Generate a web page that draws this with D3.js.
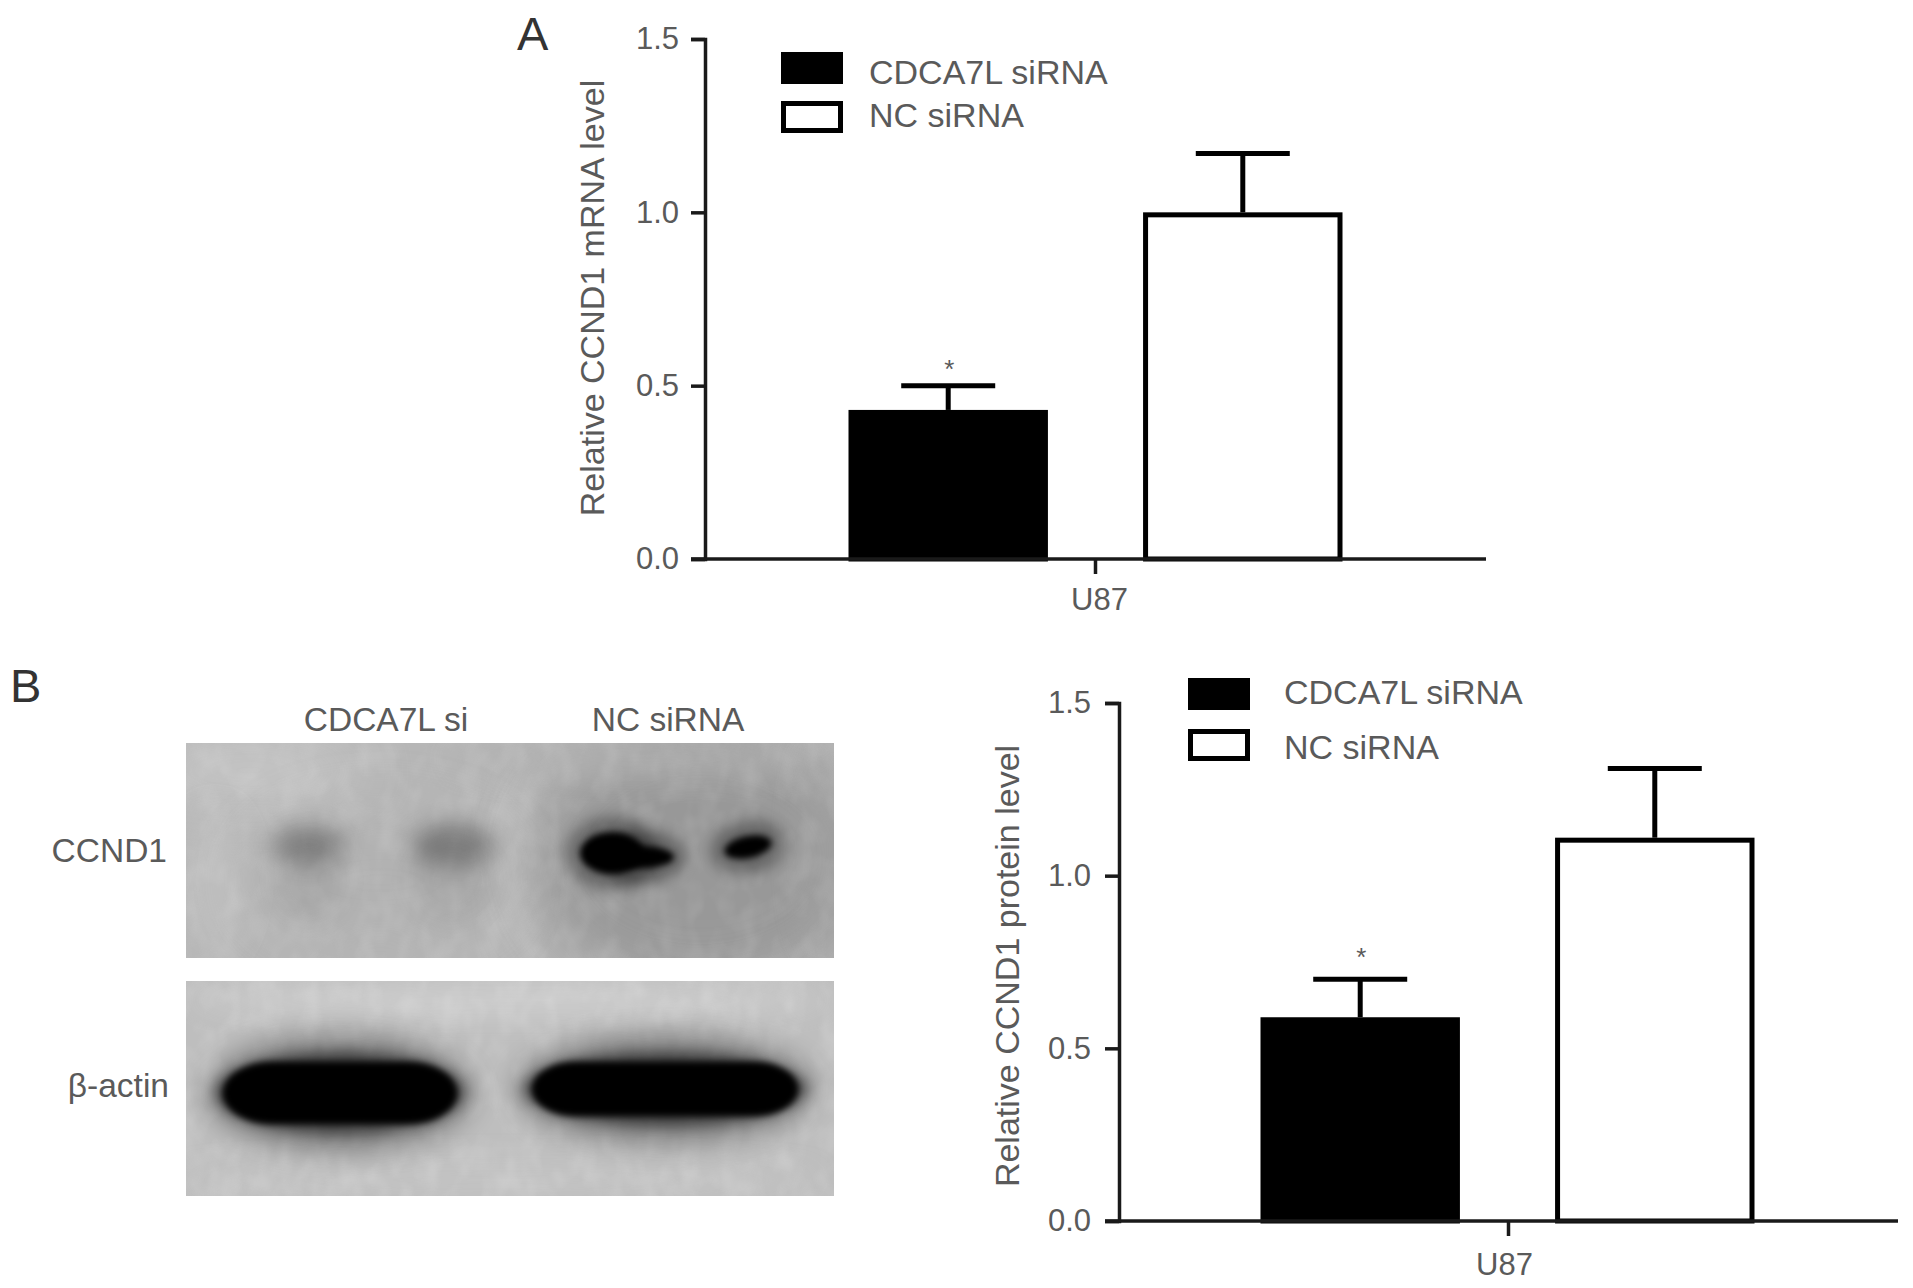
<!DOCTYPE html>
<html>
<head>
<meta charset="utf-8">
<script src="https://cdnjs.cloudflare.com/ajax/libs/d3/7.8.5/d3.min.js"></script>
<style>
  body { margin: 0; background: #fff; }
  text { font-family: "Liberation Sans", sans-serif; fill: #5a5a5a; }
</style>
</head>
<body>
<div id="chart"></div>
<script>
// values
var groups = ["U87"]
var series = ["CDCA7L siRNA", "NC siRNA"]
var yTicks = [0, 0.5, 1.0, 1.5]
var mrnaValues = [0.43, 1.0]
var mrnaErrors = [0.07, 0.17]
var proteinValues = [0.59, 1.11]
var proteinErrors = [0.11, 0.2]
var significant = [true, false]

var blotLanes = ["CDCA7L si", "NC siRNA"]
var ccnd1Signal = [0.14, 0.17, 1, 1, 1]
var actinSignal = [1, 1]

var width = 1913
var height = 1288
var barStroke = 5

var svg = d3.select("#chart").append("svg")
  .attr("width", width)
  .attr("height", height)
  .style("display", "block")

var defs = svg.append("defs")
;[3, 5, 7, 11, 14, 28, 45].forEach(function(s) {
  defs.append("filter")
    .attr("id", "blur" + s)
    .attr("x", "-100%").attr("y", "-100%")
    .attr("width", "300%").attr("height", "300%")
    .append("feGaussianBlur").attr("stdDeviation", s)
})

// mottled film texture for the blots
var mottle = defs.append("filter").attr("id", "mottle")
  .attr("x", 0).attr("y", 0).attr("width", "100%").attr("height", "100%")
mottle.append("feTurbulence")
  .attr("type", "fractalNoise").attr("baseFrequency", "0.05 0.035")
  .attr("numOctaves", 2).attr("seed", 4)
mottle.append("feColorMatrix")
  .attr("type", "matrix")
  .attr("values", "0 0 0 0 1  0 0 0 0 1  0 0 0 0 1  1.6 0 0 0 -0.62")

function drawBars(o) {
  var g = svg.append("g").attr("transform", "translate(" + o.left + "," + o.top + ")")

  var y = d3.scaleLinear().domain([0, 1.5]).range([o.h, 0])
  var x0 = d3.scaleBand().domain(groups).range([0, o.w])
  var centre = x0(groups[0]) + x0.bandwidth() / 2
  var x1 = d3.scaleBand().domain(series)
    .range([centre - 247 + o.barShift, centre + 247 + o.barShift])
    .paddingInner(0.323)

  // bars first, the axis line sits on top of them
  var bars = g.selectAll(".bar").data(series).enter().append("g").attr("class", "bar")

  bars.append("line")
    .attr("x1", function(d) { return x1(d) + x1.bandwidth() / 2 })
    .attr("x2", function(d) { return x1(d) + x1.bandwidth() / 2 })
    .attr("y1", function(d, i) { return y(o.values[i]) })
    .attr("y2", function(d, i) { return y(o.values[i] + o.errors[i]) })
    .attr("stroke", "#000").attr("stroke-width", 5)

  bars.append("line")
    .attr("x1", function(d) { return x1(d) + x1.bandwidth() / 2 - 47 })
    .attr("x2", function(d) { return x1(d) + x1.bandwidth() / 2 + 47 })
    .attr("y1", function(d, i) { return y(o.values[i] + o.errors[i]) })
    .attr("y2", function(d, i) { return y(o.values[i] + o.errors[i]) })
    .attr("stroke", "#000").attr("stroke-width", 5)

  bars.append("rect")
    .attr("x", function(d) { return x1(d) + barStroke / 2 })
    .attr("width", x1.bandwidth() - barStroke)
    .attr("y", function(d, i) { return y(o.values[i]) + barStroke / 2 })
    .attr("height", function(d, i) { return o.h - y(o.values[i]) - barStroke / 2 })
    .attr("fill", function(d, i) { return i == 0 ? "#000" : "#fff" })
    .attr("stroke", "#000")
    .attr("stroke-width", barStroke)

  bars.filter(function(d, i) { return significant[i] }).append("text")
    .attr("x", function(d) { return x1(d) + x1.bandwidth() / 2 + 1 })
    .attr("y", function(d, i) { return y(o.values[i] + o.errors[i]) - o.starGap })
    .attr("text-anchor", "middle")
    .attr("font-size", 26)
    .text("*")

  var yAxis = g.append("g")
    .call(d3.axisLeft(y).tickValues(yTicks).tickSize(14).tickPadding(o.tickPad).tickFormat(d3.format(".1f")))
  var xAxis = g.append("g")
    .attr("transform", "translate(0," + o.h + ")")
    .call(d3.axisBottom(x0).tickSize(15).tickPadding(o.labelPad))

  ;[yAxis, xAxis].forEach(function(a) {
    a.select(".domain").attr("stroke", "#1a1a1a").attr("stroke-width", 3.5)
    a.selectAll(".tick line").attr("stroke", "#1a1a1a").attr("stroke-width", 3.5)
    a.selectAll("text").attr("font-size", 31).attr("font-family", null).style("fill", "#5a5a5a")
  })
  // extend the x axis line to the left tick end
  xAxis.select(".domain").attr("d", "M-14,0H" + o.w)
  xAxis.selectAll(".tick text").attr("dx", o.labelDx)

  g.append("text")
    .attr("transform", "translate(" + o.titleX + "," + (o.h / 2 + o.titleDy) + ") rotate(-90)")
    .attr("text-anchor", "middle")
    .attr("font-size", o.titleSize)
    .text(o.title)

  // legend
  var lg = svg.append("g").attr("transform", "translate(" + o.legendX + "," + o.legendY + ")")
  var swatches = lg.selectAll("rect").data(series).enter().append("rect")
    .attr("x", 2.5)
    .attr("y", function(d, i) { return i * o.legendStep + 2.5 })
    .attr("width", 57).attr("height", 27)
    .attr("fill", function(d, i) { return i == 0 ? "#000" : "#fff" })
    .attr("stroke", "#000").attr("stroke-width", 5)
  lg.selectAll("text").data(series).enter().append("text")
    .attr("x", o.legendText)
    .attr("y", function(d, i) { return o.legendBase + i * o.legendTextStep })
    .attr("font-size", 34)
    .text(function(d) { return d })
}

drawBars({
  left: 705, top: 39, w: 781, h: 520, barShift: 0,
  values: mrnaValues, errors: mrnaErrors, starGap: 8, tickPad: 12, labelPad: 14, labelDx: 4,
  title: "Relative CCND1 mRNA level", titleX: -101, titleDy: -1, titleSize: 34,
  legendX: 781, legendY: 52, legendStep: 49, legendText: 88, legendBase: 32, legendTextStep: 43
})

drawBars({
  left: 1119, top: 703, w: 779, h: 518, barShift: -1,
  values: proteinValues, errors: proteinErrors, starGap: 13, tickPad: 14, labelPad: 17, labelDx: -4,
  title: "Relative CCND1 protein level", titleX: -100, titleDy: 4, titleSize: 34,
  legendX: 1188, legendY: 678, legendStep: 51, legendText: 96, legendBase: 26, legendTextStep: 55
})

// panel letters
svg.append("text").attr("x", 517).attr("y", 50).attr("font-size", 47).style("fill", "#333").text("A")
svg.append("text").attr("x", 10).attr("y", 702).attr("font-size", 47).style("fill", "#333").text("B")

// western blot panels, painted with blurred shapes
function blotPanel(id, x, y, w, h, base) {
  defs.append("clipPath").attr("id", id).append("rect")
    .attr("x", x).attr("y", y).attr("width", w).attr("height", h)
  var p = svg.append("g").attr("clip-path", "url(#" + id + ")")
  p.append("rect").attr("x", x).attr("y", y).attr("width", w).attr("height", h).attr("fill", base)
  return p
}

function smear(p, cx, cy, rx, ry, colour, opacity, blur, rotate) {
  p.append("ellipse")
    .attr("cx", cx).attr("cy", cy).attr("rx", rx).attr("ry", ry)
    .attr("fill", colour).attr("opacity", opacity)
    .attr("filter", "url(#blur" + blur + ")")
    .attr("transform", rotate ? "rotate(" + rotate + " " + cx + " " + cy + ")" : null)
}

var top1 = blotPanel("clipTop", 186, 743, 648, 215, "#b6b6b6")
smear(top1, 250, 770, 120, 30, "#cbcbcb", 0.8, 28)
smear(top1, 215, 880, 30, 70, "#c4c4c4", 0.6, 14)
smear(top1, 515, 860, 16, 90, "#c6c6c6", 0.7, 14)
smear(top1, 700, 860, 170, 130, "#8f8f8f", 0.75, 28)
smear(top1, 640, 760, 190, 18, "#b0b0b0", 0.7, 14)
smear(top1, 820, 850, 20, 100, "#a2a2a2", 0.5, 14)
smear(top1, 380, 880, 130, 70, "#adadad", 0.5, 28)
top1.append("rect").attr("x", 186).attr("y", 743).attr("width", 648).attr("height", 215)
  .attr("filter", "url(#mottle)").attr("opacity", 0.14)

var laneCx = [309, 452, 612, 642, 748]
var laneCy = [845, 845, 853, 857, 847]
var laneRx = [36, 42, 32, 32, 24]
var laneRy = [20, 22, 21, 11, 11]
ccnd1Signal.forEach(function(s, i) {
  if (s < 0.5) {
    smear(top1, laneCx[i], laneCy[i], laneRx[i], laneRy[i], "#000", s + 0.12, 11)
    smear(top1, laneCx[i], laneCy[i] + 35, laneRx[i], 40, "#000", 0.06, 14)
  } else {
    smear(top1, laneCx[i], laneCy[i], laneRx[i] + 14, laneRy[i] + 16, "#000", 0.32, 7, i == 4 ? -12 : 0)
    smear(top1, laneCx[i], laneCy[i], laneRx[i], laneRy[i], "#000", s, 3, i == 4 ? -12 : 0)
  }
})

var top2 = blotPanel("clipBottom", 186, 981, 648, 215, "#bebebe")
smear(top2, 510, 1000, 320, 16, "#d2d2d2", 0.8, 14)
smear(top2, 500, 1180, 320, 16, "#c6c6c6", 0.7, 14)
top2.append("rect").attr("x", 186).attr("y", 981).attr("width", 648).attr("height", 215)
  .attr("filter", "url(#mottle)").attr("opacity", 0.2)
var actinCx = [340, 665]
var actinRx = [117, 133]
var actinRy = [31, 27]
var actinCy = [1093, 1089]
actinSignal.forEach(function(s, i) {
  smear(top2, actinCx[i], actinCy[i], actinRx[i] + 16, actinRy[i] + 26, "#000", 0.36, 14)
  smear(top2, actinCx[i], actinCy[i], actinRx[i] + 8, actinRy[i] + 9, "#000", 0.55, 7)
  top2.append("rect")
    .attr("x", actinCx[i] - actinRx[i]).attr("y", actinCy[i] - actinRy[i])
    .attr("width", actinRx[i] * 2).attr("height", actinRy[i] * 2)
    .attr("rx", actinRy[i] * 1.6).attr("ry", actinRy[i])
    .attr("fill", "#000").attr("opacity", s)
    .attr("filter", "url(#blur3)")
})

// blot labels
svg.selectAll(".laneLabel").data(blotLanes).enter().append("text")
  .attr("class", "laneLabel")
  .attr("x", function(d, i) { return [386, 668][i] })
  .attr("y", 731)
  .attr("text-anchor", "middle")
  .attr("font-size", 33.5)
  .text(function(d) { return d })

svg.append("text").attr("x", 167).attr("y", 862).attr("text-anchor", "end").attr("font-size", 33.5).text("CCND1")
svg.append("text").attr("x", 169).attr("y", 1097).attr("text-anchor", "end").attr("font-size", 33.5).text("β-actin")
</script>
</body>
</html>
